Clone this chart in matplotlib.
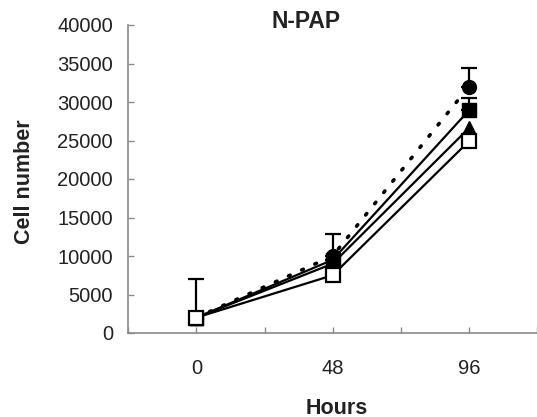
import matplotlib
matplotlib.use("Agg")
import matplotlib.pyplot as plt
import numpy as np

plt.rcParams['font.family'] = ['Liberation Sans', 'DejaVu Sans']

# categories on the x axis (hours)
hours = ['0', '48', '96']

# cell numbers per series
circle_vals = [2000, 10000, 32000]
circle_err = [5000, 2800, 2400]
square_vals = [2000, 9500, 28900]
square_err = [0, 0, 1600]
triangle_vals = [2000, 9000, 26600]
open_vals = [2000, 7500, 24900]

y_ticks = [0, 5000, 10000, 15000, 20000, 25000, 30000, 35000, 40000]

fig = plt.figure(figsize=(5.37, 4.17), dpi=100)
ax = fig.add_axes([128.25 / 537, 84 / 417, (537 - 128.25) / 537, (333 - 25) / 417])

x = np.arange(len(hours))

# error bars (upper only, like Excel "plus")
ax.errorbar(x, circle_vals, yerr=[np.zeros(3), circle_err], fmt='none',
            ecolor='black', elinewidth=1.6, capsize=5.5, capthick=1.6, zorder=2)
ax.errorbar(x, square_vals, yerr=[np.zeros(3), square_err], fmt='none',
            ecolor='black', elinewidth=1.6, capsize=5.5, capthick=1.6, zorder=2)

ax.plot(x, circle_vals, color='black', linestyle=(0, (0.5, 3.5)), linewidth=2.6,
        dash_capstyle='round', marker='o', markersize=10,
        markerfacecolor='black', markeredgecolor='black', zorder=3)
ax.plot(x, square_vals, color='black', linewidth=1.6, marker='s', markersize=9.5,
        markerfacecolor='black', markeredgecolor='black', zorder=4)
ax.plot(x, triangle_vals, color='black', linewidth=1.6, marker='^', markersize=10,
        markerfacecolor='black', markeredgecolor='black', zorder=5)
ax.plot(x, open_vals, color='black', linewidth=1.6, marker='s', markersize=9.5,
        markerfacecolor='white', markeredgecolor='black', markeredgewidth=1.6, zorder=6)

ax.set_xlim(-0.5, 2.43)
ax.set_ylim(0, 40000)

ax.set_xticks(x)
ax.set_xticklabels(hours)
ax.set_xticks([-0.5, 0.5, 1.5, 2.5], minor=True)
ax.set_yticks(y_ticks)
ax.set_yticklabels([str(v) for v in y_ticks])

for side in ['top', 'right']:
    ax.spines[side].set_visible(False)
for side in ['left', 'bottom']:
    ax.spines[side].set_color('#8a8a8a')
    ax.spines[side].set_linewidth(1.2)

ax.tick_params(axis='both', which='both', direction='in', length=4, width=1,
               color='#8a8a8a', labelsize=14.5, labelcolor='#222222')
ax.tick_params(axis='x', which='major', pad=19)
ax.tick_params(axis='y', pad=11)

fig.text(306 / 537, 1 - 21 / 417, 'N-PAP', ha='center', va='center',
         fontsize=16.5, fontweight='bold', color='#222222')
fig.text(25 / 537, 1 - 182 / 417, 'Cell number', ha='center', va='center',
         rotation=90, fontsize=15.5, fontweight='bold', color='#222222')
fig.text(337 / 537, 1 - 408 / 417, 'Hours', ha='center', va='center',
         fontsize=15.5, fontweight='bold', color='#222222')

fig.savefig('out.png', dpi=100)
